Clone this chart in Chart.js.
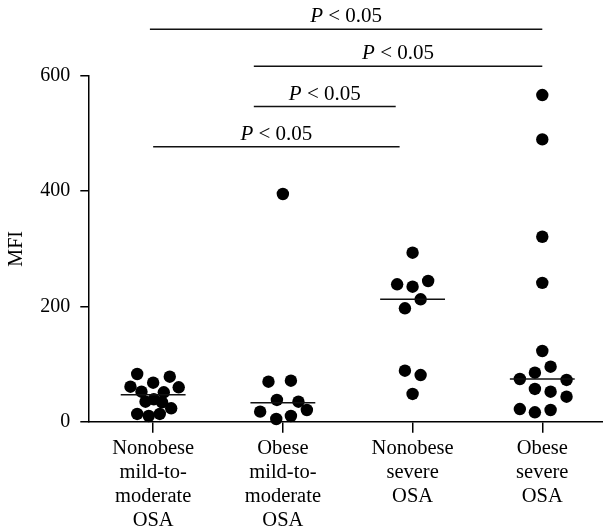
<!DOCTYPE html>
<html>
<head>
<meta charset="utf-8">
<script src="https://cdn.jsdelivr.net/npm/chart.js@4"></script>
<style>
html,body{margin:0;padding:0;background:#fff;overflow:hidden;}
#wrap{width:603px;height:527px;position:relative;}
</style>
</head>
<body>
<div id="wrap"><canvas id="c"></canvas></div>
<script>
// ---- data ----
const categories = [
  ["Nonobese","mild-to-","moderate","OSA"],
  ["Obese","mild-to-","moderate","OSA"],
  ["Nonobese","severe","OSA"],
  ["Obese","severe","OSA"]
];
const yTicks = [0, 200, 400, 600];

const nonobeseMildValues = [82.8, 78.1, 60.7, 67.7, 52.1, 51.0, 59.7, 34.7, 38.9, 33.7, 23.3, 13.4, 9.9, 13.4];
const nonobeseMildJitter = [-0.123, 0.128, -0.175, 0, -0.09, 0.082, 0.197, -0.059, 0.005, 0.069, 0.139, -0.123, -0.034, 0.051];

const obeseMildValues = [395.2, 69.4, 71.2, 37.7, 34.7, 17.4, 20.3, 4.7, 9.9];
const obeseMildJitter = [0, -0.111, 0.062, -0.046, 0.120, -0.175, 0.185, -0.051, 0.062];

const nonobeseSevereValues = [293.3, 238.5, 234.3, 244.2, 212.4, 196.8, 88.5, 81.0, 48.1];
const nonobeseSevereJitter = [0, -0.119, 0, 0.12, 0.062, -0.059, -0.059, 0.062, 0];

const obeseSevereValues = [567, 490, 321, 241, 122.7, 95.5, 85, 74.1, 72.4, 56.8, 52.1, 43.4, 22.0, 16.3, 20.3];
const obeseSevereJitter = [0, 0, 0, 0, 0, 0.064, -0.057, -0.173, 0.187, -0.057, 0.064, 0.187, -0.173, -0.057, 0.064];

const medians = [46.9, 33.0, 212.4, 74.1];

// significance brackets (category units / MFI units)
const sigStart = [0.975, 1.776, 1.776, 1.0];
const sigEnd   = [4.0, 4.0, 2.87, 2.9];
const sigLevel = [681, 617, 547, 477];
const sigText  = ["P", " < 0.05"];

// ---- build datasets ----
const groupValues = [nonobeseMildValues, obeseMildValues, nonobeseSevereValues, obeseSevereValues];
const groupJitter = [nonobeseMildJitter, obeseMildJitter, nonobeseSevereJitter, obeseSevereJitter];

const FONT = "'Liberation Serif', 'Times New Roman', serif";
Chart.defaults.color = '#000';
Chart.defaults.font.family = FONT;
Chart.defaults.font.size = 20;

const datasets = [];
groupValues.forEach((vals, g) => {
  datasets.push({
    type: 'line',
    showLine: true,
    data: [{x: g + 1 - 0.25, y: medians[g]}, {x: g + 1 + 0.25, y: medians[g]}],
    borderColor: '#111',
    borderWidth: 1.5,
    pointRadius: 0,
    clip: false,
    order: 0
  });
  datasets.push({
    type: 'scatter',
    data: vals.map((v, i) => ({x: g + 1 + groupJitter[g][i], y: v})),
    backgroundColor: '#000',
    borderColor: '#000',
    borderWidth: 0,
    pointRadius: 6.2,
    pointHoverRadius: 6.2,
    clip: false,
    order: 1
  });
});

const sigPlugin = {
  id: 'sig',
  afterDraw(chart) {
    const ctx = chart.ctx;
    const xs = chart.scales.x, ys = chart.scales.y;
    ctx.save();
    ctx.strokeStyle = '#111';
    ctx.lineWidth = 1.5;
    ctx.fillStyle = '#000';
    ctx.textBaseline = 'alphabetic';
    for (let i = 0; i < sigLevel.length; i++) {
      const x1 = xs.getPixelForValue(sigStart[i]);
      const x2 = xs.getPixelForValue(sigEnd[i]);
      const y = ys.getPixelForValue(sigLevel[i]);
      ctx.beginPath();
      ctx.moveTo(x1, y);
      ctx.lineTo(x2, y);
      ctx.stroke();
      ctx.font = "italic 21px " + FONT;
      const w1 = ctx.measureText(sigText[0]).width;
      ctx.font = "21px " + FONT;
      const w2 = ctx.measureText(sigText[1]).width;
      const start = (x1 + x2) / 2 - (w1 + w2) / 2;
      ctx.font = "italic 21px " + FONT;
      ctx.textAlign = 'left';
      ctx.fillText(sigText[0], start, y - 7);
      ctx.font = "21px " + FONT;
      ctx.fillText(sigText[1], start + w1, y - 7);
    }
    ctx.restore();
  }
};

new Chart(document.getElementById('c'), {
  type: 'scatter',
  data: { datasets },
  options: {
    responsive: true,
    maintainAspectRatio: false,
    animation: false,
    events: [],
    layout: { autoPadding: false, padding: { top: 76, right: 0, left: 0, bottom: 0 } },
    plugins: { legend: { display: false }, tooltip: { enabled: false } },
    scales: {
      x: {
        type: 'linear',
        min: 0.5,
        max: 4.468,
        afterBuildTicks: (s) => { s.ticks = categories.map((c, i) => ({value: i + 1})); },
        afterFit: (s) => { s.height = 105.3; s.paddingLeft = 0; s.paddingRight = 0; },
        ticks: {
          autoSkip: false,
          maxRotation: 0,
          padding: 3.5,
          color: '#000',
          font: { size: 20.5, family: FONT, lineHeight: 1.18 },
          callback: (v) => categories[Math.round(v) - 1] || ''
        },
        grid: { drawOnChartArea: false, drawTicks: true, tickLength: 11, color: '#000', lineWidth: 1.5 },
        border: { display: true, color: '#000', width: 1.5 }
      },
      y: {
        type: 'linear',
        min: 0,
        max: 600,
        afterBuildTicks: (s) => { s.ticks = yTicks.map(v => ({value: v})); },
        afterFit: (s) => { s.width = 88.3; s.paddingTop = 0; s.paddingBottom = 0; },
        ticks: { padding: 10, color: '#000', font: { size: 20, family: FONT } },
        grid: { drawOnChartArea: false, drawTicks: true, tickLength: 8, color: '#000', lineWidth: 1.5 },
        border: { display: true, color: '#000', width: 1.5 },
        title: { display: true, text: 'MFI', color: '#000', font: { size: 20, family: FONT }, padding: { top: 5, bottom: 0 } }
      }
    }
  },
  plugins: [sigPlugin]
});
</script>
</body>
</html>
